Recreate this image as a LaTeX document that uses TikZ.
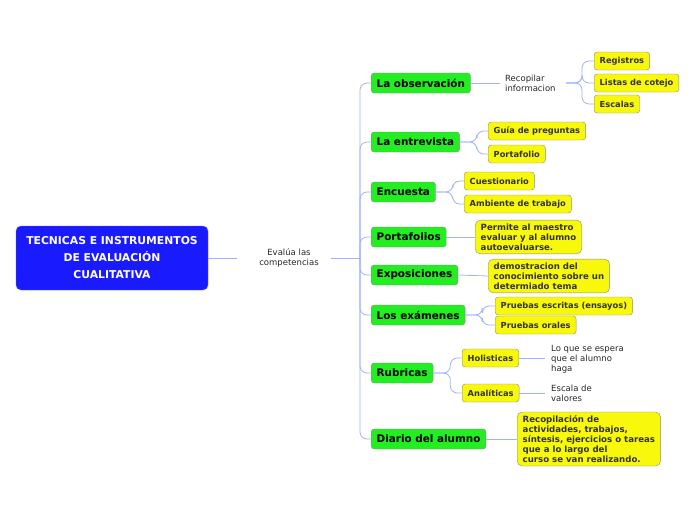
\documentclass[tikz,border=0pt]{standalone}
\usepackage{fontspec}
\setmainfont{DejaVu Sans}
\usepackage{tikz}
\usetikzlibrary{positioning}

\definecolor{rootblue}{RGB}{26,26,255}
\definecolor{topgreen}{RGB}{34,238,34}
\definecolor{leafyellow}{RGB}{248,248,12}
\definecolor{linkblue}{RGB}{160,176,255}
\definecolor{textgray}{RGB}{51,51,51}

\begin{document}
\begin{tikzpicture}[x=1pt, y=-1pt,
    rootbox/.style={draw=rootblue!70!white, fill=rootblue, rounded corners=5pt, text=white,
      font=\bfseries\fontsize{10.8}{17}\selectfont, align=center, minimum width=192pt, minimum height=64pt},
    topic/.style={draw=black!45, fill=topgreen, rounded corners=3pt, text=black,
      font=\bfseries\fontsize{10.4}{12}\selectfont, minimum height=20pt, inner xsep=5.5pt},
    leaf/.style={draw=black!45, fill=leafyellow, rounded corners=3pt, text=textgray,
      font=\bfseries\fontsize{8.3}{9}\selectfont, minimum height=18pt, inner xsep=5.5pt},
    note/.style={draw=black!45, fill=leafyellow, rounded corners=5pt, text=textgray,
      font=\bfseries\fontsize{8.6}{10}\selectfont, align=left, inner xsep=5.5pt, inner ysep=3.5pt},
    plain/.style={text=black!85, font=\fontsize{8.5}{10}\selectfont, align=left, inner sep=0pt},
    link/.style={draw=linkblue, line width=0.8pt, rounded corners=7pt}]
  \useasboundingbox (0,0) rectangle (696,520);

  % Root and central label
  \node[rootbox] (root) at (112,258) {TECNICAS E INSTRUMENTOS\\DE EVALUACIÓN\\CUALITATIVA};
  \node[plain, align=center] (evalua) at (289,258) {Evalúa las\\competencias};
  \coordinate (trunk) at (360,258);
  \draw[link] (root.east) -- ++(29,0);
  \draw[link] (evalua.east) ++(12,0) -- (trunk);

  % Main topics
  \node[topic, anchor=west] (obs) at (371,83) {La observación};
  \node[topic, anchor=west] (ent) at (371,142) {La entrevista};
  \node[topic, anchor=west] (enc) at (371,192) {Encuesta};
  \node[topic, anchor=west] (port) at (371,237) {Portafolios};
  \node[topic, anchor=west] (expo) at (371,275) {Exposiciones};
  \node[topic, anchor=west] (exa) at (371,315) {Los exámenes};
  \node[topic, anchor=west] (rub) at (371,373) {Rubricas};
  \node[topic, anchor=west] (diario) at (371,439) {Diario del alumno};

  \foreach \t in {obs,ent,enc,port,expo,exa,rub,diario}
    \draw[link] (trunk) |- (\t.west);

  % La observacion
  \node[plain, anchor=west] (recop) at (505,83) {Recopilar\\informacion};
  \draw[link] (obs.east) -- (500,83);
  \node[leaf, anchor=west] (reg) at (594,61) {Registros};
  \node[leaf, anchor=west] (listas) at (594,83) {Listas de cotejo};
  \node[leaf, anchor=west] (esc) at (594,104) {Escalas};
  \coordinate (recbr) at (566,83);
  \foreach \l in {reg,listas,esc}
    \draw[link] (recbr) -- ++(16,0) |- (\l.west);

  % La entrevista
  \node[leaf, anchor=west] (guia) at (488,131) {Guía de preguntas};
  \node[leaf, anchor=west] (portaf) at (488,154) {Portafolio};
  \foreach \l in {guia,portaf}
    \draw[link] (ent.east) -- ++(17,0) |- (\l.west);

  % Encuesta
  \node[leaf, anchor=west] (cuest) at (464,181) {Cuestionario};
  \node[leaf, anchor=west] (amb) at (464,204) {Ambiente de trabajo};
  \foreach \l in {cuest,amb}
    \draw[link] (enc.east) -- ++(17,0) |- (\l.west);

  % Portafolios
  \node[note, anchor=west] (permite) at (475,237) {Permite al maestro\\evaluar y al alumno\\autoevaluarse.};
  \draw[link] (port.east) -- (permite.west);

  % Exposiciones
  \node[note, anchor=west] (demo) at (488,276) {demostracion del\\conocimiento sobre un\\determiado tema};
  \draw[link] (expo.east) -- (demo.west);

  % Los examenes
  \node[leaf, anchor=west] (escritas) at (495,306) {Pruebas escritas (ensayos)};
  \node[leaf, anchor=west] (orales) at (495,325) {Pruebas orales};
  \foreach \l in {escritas,orales}
    \draw[link] (exa.east) -- ++(17,0) |- (\l.west);

  % Rubricas
  \node[leaf, anchor=west] (holi) at (462,358) {Holisticas};
  \node[leaf, anchor=west] (anali) at (462,393) {Analíticas};
  \foreach \l in {holi,anali}
    \draw[link] (rub.east) -- ++(17,0) |- (\l.west);
  \node[plain, anchor=west] (espera) at (551,359) {Lo que se espera\\que el alumno\\haga};
  \node[plain, anchor=west] (escala) at (551,393) {Escala de\\valores};
  \draw[link] (holi.east) -- (545,358);
  \draw[link] (anali.east) -- (545,393);

  % Diario del alumno
  \node[note, anchor=west] (recopil) at (517,439) {Recopilación de\\actividades, trabajos,\\síntesis, ejercicios o tareas\\que a lo largo del\\curso se van realizando.};
  \draw[link] (diario.east) -- (recopil.west);
\end{tikzpicture}
\end{document}
